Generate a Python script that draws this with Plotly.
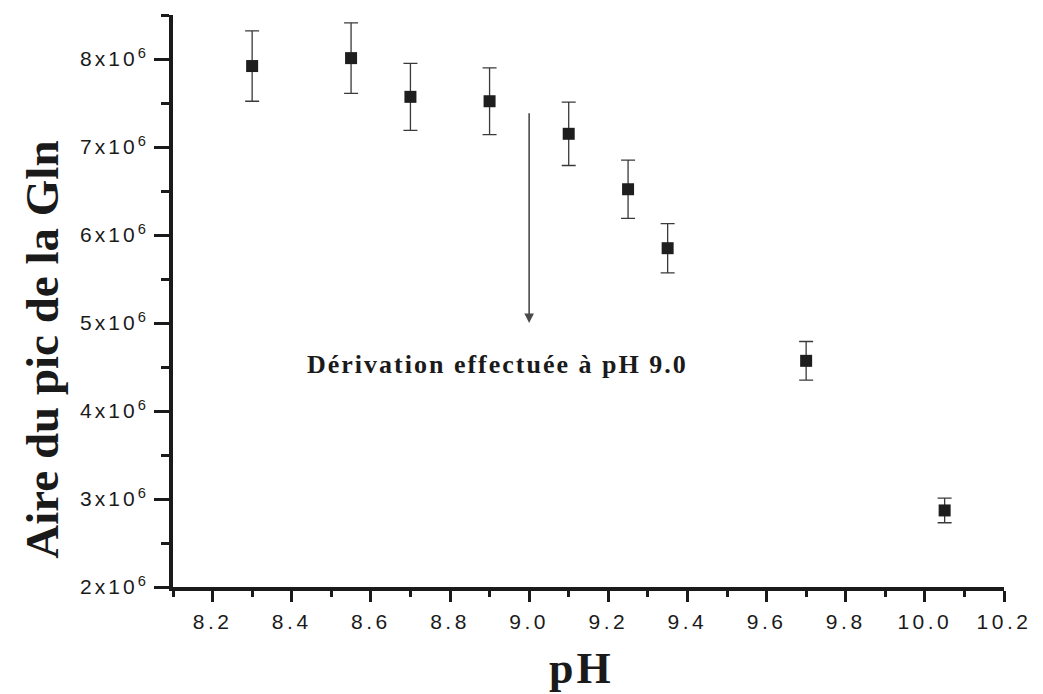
import plotly.graph_objects as go

ph = [8.30, 8.55, 8.70, 8.90, 9.10, 9.25, 9.35, 9.70, 10.05]
area = [7.92e6, 8.01e6, 7.57e6, 7.52e6, 7.15e6, 6.52e6, 5.85e6, 4.57e6, 2.87e6]
err = [0.40e6, 0.40e6, 0.38e6, 0.38e6, 0.36e6, 0.33e6, 0.28e6, 0.22e6, 0.14e6]

x_ticks = [8.2, 8.4, 8.6, 8.8, 9.0, 9.2, 9.4, 9.6, 9.8, 10.0, 10.2]
x_ticklabels = ["8.2", "8.4", "8.6", "8.8", "9.0", "9.2", "9.4", "9.6", "9.8", "10.0", "10.2"]
y_ticks = [2e6, 3e6, 4e6, 5e6, 6e6, 7e6, 8e6]
y_ticklabels = ["2x10", "3x10", "4x10", "5x10", "6x10", "7x10", "8x10"]

arrow_x = 9.0
arrow_start = 7.40e6
arrow_end = 5.0e6
note = "Dérivation effectuée à pH 9.0"

fig = go.Figure()
fig.add_trace(go.Scatter(
    x=ph, y=area, mode="markers",
    marker=dict(symbol="square", size=12, color="#1e1e1e"),
    error_y=dict(type="data", array=err, visible=True, color="#3a3a3a",
                 thickness=1.3, width=7),
    showlegend=False,
))

tickfont = dict(family="Liberation Sans, Arial", size=21, color="#1a1a1a")

plot_left, plot_right = 173, 1013
plot_top, plot_bottom = 15, 587
W, H = 1043, 694
plot_w = plot_right - plot_left
plot_h = plot_bottom - plot_top


def px_x(px):
    return (px - plot_left) / plot_w


def px_y(py):
    return (plot_bottom - py) / plot_h


fig.update_layout(
    width=W, height=H,
    margin=dict(l=plot_left, r=W - plot_right, t=plot_top, b=H - plot_bottom),
    paper_bgcolor="white", plot_bgcolor="white",
    xaxis=dict(
        range=[8.1, 10.2], showgrid=False, zeroline=False,
        showline=True, linecolor="#1a1a1a", linewidth=4,
        tickmode="array", tickvals=x_ticks,
        ticktext=[f'<span style="letter-spacing:3.5px">{t}</span>' for t in x_ticklabels],
        ticks="outside", ticklen=11, tickwidth=3, tickcolor="#1a1a1a",
        tickfont=tickfont, ticklabelstandoff=2,
        minor=dict(dtick=0.1, tick0=8.1, ticks="outside", ticklen=6, tickwidth=3, tickcolor="#1a1a1a"),
    ),
    yaxis=dict(
        range=[2e6, 8.5e6], showgrid=False, zeroline=False,
        showline=True, linecolor="#1a1a1a", linewidth=4,
        tickmode="array", tickvals=y_ticks,
        ticktext=[f'<span style="letter-spacing:3px">{t}</span><sup>6</sup>' for t in y_ticklabels],
        ticks="outside", ticklen=15, tickwidth=3, tickcolor="#1a1a1a",
        tickfont=tickfont, ticklabelstandoff=4,
        minor=dict(dtick=0.5e6, tick0=2e6, ticks="outside", ticklen=8, tickwidth=3, tickcolor="#1a1a1a"),
    ),
    annotations=[
        dict(x=arrow_x, y=arrow_end, ax=arrow_x, ay=arrow_start,
             xref="x", yref="y", axref="x", ayref="y",
             text="", showarrow=True, arrowhead=2, arrowsize=1.2,
             arrowwidth=1.6, arrowcolor="#4a4a4a"),
        dict(x=8.92, y=4.53e6, xref="x", yref="y",
             text=f'<b><span style="letter-spacing:2px">{note}</span></b>',
             showarrow=False,
             font=dict(family="Liberation Serif, Times New Roman", size=26, color="#1a1a1a")),
        dict(x=px_x(586), y=px_y(668), xref="paper", yref="paper", yanchor="middle",
             text='<b><span style="letter-spacing:3px">pH</span></b>', showarrow=False,
             font=dict(family="Liberation Serif, Times New Roman", size=44, color="#1a1a1a")),
        dict(x=px_x(12), y=px_y(350), xref="paper", yref="paper",
             text="<b>Aire du pic de la Gln</b>", showarrow=False, textangle=-90,
             font=dict(family="Liberation Serif, Times New Roman", size=47, color="#1a1a1a")),
    ],
)

fig.write_html("out.html")
